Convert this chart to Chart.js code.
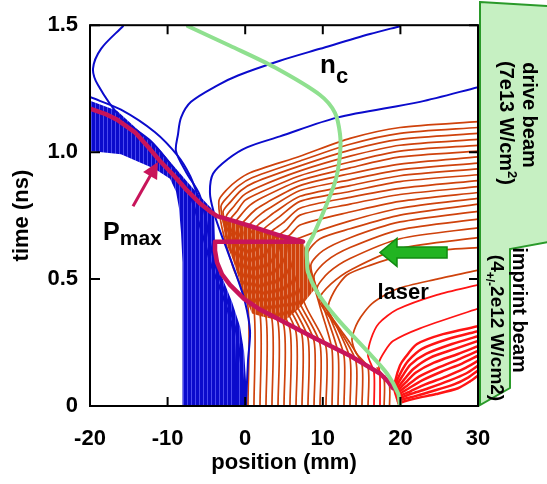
<!DOCTYPE html>
<html>
<head>
<meta charset="utf-8">
<script src="https://cdn.jsdelivr.net/npm/chart.js@4.4.1/dist/chart.umd.min.js"></script>
<style>
  html, body { margin: 0; padding: 0; background: #fff; }
  #wrap { width: 547px; height: 484px; position: relative; }
</style>
</head>
<body>
<div id="wrap"><canvas id="lagrange"></canvas></div>
<script>
// axis ticks
const xTicks = [-20, -10, 0, 10, 20, 30];
const yTicks = [0, 0.5, 1.0, 1.5];
const yTickLabels = ['0', '0.5', '1.0', '1.5'];

// critical density surface n_c  [position mm, time ns]
const ncCurve = [[-7.37,1.496],[-1.96,1.419],[3.84,1.333],[9.64,1.225],[11.57,1.155],[12.22,1.070],[12.22,0.992],[11.7,0.895],[10.54,0.798],[8.74,0.671],[7.96,0.624],[7.96,0.574],[8.09,0.527],[9.25,0.450],[11.83,0.345],[15.7,0.217],[18.27,0.128],[19.69,0.050],[19.95,0]];

// peak pressure front P_max
const pmaxCurve = [[-20,1.171],[-18.07,1.151],[-16.52,1.128],[-14.2,1.078],[-12.27,1.012],[-10.98,0.965],[-9.05,0.903],[-7.5,0.849],[-5.82,0.798],[-4.54,0.767],[-3.63,0.748],[-1.96,0.733],[0.62,0.709],[4.48,0.671],[7.45,0.647],[-3.89,0.647],[-3.89,0.612],[-3.63,0.566],[-2.99,0.519],[-1.96,0.477],[-0.15,0.422],[1.91,0.380],[4.87,0.333],[8.99,0.267],[13.51,0.198],[17.37,0.128],[18.4,0.097],[19.05,0.070]];

// dense blue (foam) trajectories, drawn as one outlined region
const blueBand = [[-20,1.202],[-16.52,1.163],[-10.98,1.008],[-7.5,0.884],[-5.82,0.826],[-4.02,0.767],[-3.89,0.643],[-3.63,0.558],[-2.73,0.488],[-1.7,0.411],[-0.67,0.314],[-0.15,0.217],[0.1,0.101],[0.1,0],[-8.02,0],[-8.02,0.411],[-8.14,0.566],[-8.27,0.682],[-8.53,0.779],[-8.92,0.845],[-9.69,0.895],[-11.62,0.934],[-16.01,0.992],[-20,1.004]];

// single blue trajectories
const bluePaths = [
  [[-1.19,0],[-1.57,0.295],[-2.99,0.442],[-4.41,0.558],[-5.31,0.655],[-5.95,0.721],[-6.73,0.798],[-7.76,0.876],[-9.95,0.965],[-12.14,1.043],[-16.01,1.136],[-18.97,1.264],[-19.61,1.329],[-18.58,1.407],[-15.75,1.496]],
  [[-0.15,0],[-0.28,0.101],[-1.19,0.295],[-2.6,0.442],[-3.89,0.558],[-4.66,0.663],[-5.18,0.752],[-5.95,0.837],[-7.63,0.922],[-8.92,1.004],[-8.66,1.070],[-8.27,1.136],[-6.98,1.198],[-3.51,1.264],[-0.93,1.302],[4.48,1.360],[9.64,1.407],[16.08,1.465],[19.95,1.496]],
  [[0.1,0],[0.36,0.178],[0.62,0.295],[-0.03,0.411],[-1.06,0.508],[-2.22,0.605],[-3.25,0.690],[-4.02,0.760],[-4.54,0.837],[-4.15,0.915],[-2.22,0.973],[0.23,1.019],[4.48,1.062],[11.83,1.136],[22.53,1.198],[30,1.256]],
  [[-20,1.217],[-16.01,1.167],[-11.62,1.078],[-8.66,0.984],[-7.11,0.907],[-6.21,0.837]]
];

// compressed orange (target) region
const orangePack = [[-2.99,0.740],[0.62,0.709],[4.48,0.671],[7.45,0.647],[7.96,0.597],[8.22,0.527],[8.87,0.457],[7.06,0.388],[5.0,0.333],[2.16,0.353],[0.88,0.364],[0.23,0.411],[-0.67,0.488],[-1.57,0.574],[-2.47,0.643]];

// single orange trajectories
const orangePaths = [
  [[0.36,0],[0.36,0.391],[-1.57,0.547],[-2.99,0.702],[-3.38,0.810],[-2.35,0.853],[-1.06,0.888],[0.62,0.919],[7.06,0.984],[13.51,1.054],[19.95,1.097],[30,1.120]],
  [[1.13,0],[1.13,0.380],[-0.93,0.535],[-2.47,0.682],[-3.12,0.787],[-2.09,0.829],[-0.8,0.868],[0.88,0.899],[7.06,0.965],[13.51,1.031],[19.95,1.074],[30,1.097]],
  [[1.91,0],[1.91,0.364],[-0.28,0.519],[-1.96,0.667],[-2.86,0.764],[-1.83,0.806],[-0.54,0.849],[1.13,0.880],[7.06,0.946],[13.51,1.008],[19.95,1.050],[30,1.074]],
  [[2.68,0],[2.68,0.353],[0.36,0.508],[-1.44,0.651],[-2.47,0.744],[-1.44,0.787],[-0.28,0.829],[1.52,0.860],[7.06,0.926],[13.51,0.984],[19.95,1.027],[30,1.050]],
  [[3.45,0],[3.45,0.341],[1.01,0.496],[-0.93,0.636],[-2.09,0.725],[-1.06,0.767],[-0.03,0.810],[1.91,0.841],[7.06,0.907],[13.51,0.961],[19.95,1.004],[30,1.027]],
  [[4.23,0],[4.23,0.329],[1.65,0.484],[-0.28,0.620],[-1.57,0.709],[-0.67,0.748],[0.62,0.791],[2.29,0.822],[7.06,0.888],[13.51,0.938],[19.95,0.981],[30,1.004]],
  [[5.0,0],[5.0,0.314],[2.42,0.473],[0.36,0.605],[-0.93,0.694],[0.1,0.736],[1.39,0.775],[2.81,0.802],[7.06,0.868],[13.51,0.915],[19.95,0.953],[30,0.981]],
  [[5.77,0],[5.77,0.302],[3.2,0.461],[1.13,0.593],[-0.15,0.682],[0.88,0.725],[2.16,0.760],[3.32,0.783],[7.06,0.849],[13.51,0.891],[19.95,0.930],[30,0.957]],
  [[6.55,0],[6.55,0.291],[3.97,0.450],[1.91,0.581],[0.62,0.674],[1.65,0.713],[2.81,0.740],[3.84,0.764],[7.06,0.826],[13.51,0.868],[19.95,0.907],[30,0.934]],
  [[7.32,0],[7.32,0.279],[4.74,0.438],[2.68,0.570],[1.52,0.667],[2.55,0.702],[4.36,0.744],[7.06,0.806],[13.51,0.845],[19.95,0.884],[30,0.911]],
  [[8.09,0],[8.09,0.267],[5.52,0.426],[3.58,0.558],[2.42,0.659],[3.45,0.690],[4.87,0.721],[7.06,0.779],[13.51,0.822],[19.95,0.857],[30,0.888]],
  [[8.87,0],[8.87,0.256],[6.29,0.415],[4.48,0.547],[3.32,0.651],[4.36,0.674],[5.39,0.698],[7.06,0.752],[13.51,0.795],[19.95,0.833],[30,0.864]],
  [[9.64,0],[9.64,0.244],[7.06,0.403],[5.39,0.535],[4.36,0.643],[5.77,0.674],[7.06,0.713],[13.51,0.764],[19.95,0.806],[30,0.841]],
  [[10.41,0],[10.41,0.233],[7.84,0.391],[6.29,0.519],[5.52,0.636],[7.06,0.663],[13.51,0.729],[19.95,0.779],[30,0.818]],
  [[11.19,0],[11.19,0.221],[9.64,0.391],[8.48,0.519],[8.09,0.605],[9.64,0.659],[13.51,0.698],[19.95,0.752],[30,0.795]],
  [[11.96,0],[11.96,0.209],[10.28,0.372],[8.99,0.481],[8.48,0.558],[10.03,0.612],[13.51,0.663],[19.95,0.725],[30,0.767]],
  [[12.73,0],[12.73,0.198],[10.93,0.349],[9.51,0.442],[8.87,0.512],[10.41,0.570],[13.51,0.624],[19.95,0.694],[30,0.736]],
  [[13.51,0],[13.51,0.186],[11.57,0.326],[10.03,0.403],[9.25,0.465],[10.8,0.527],[13.51,0.581],[19.95,0.659],[30,0.702]],
  [[14.28,0],[14.28,0.174],[12.22,0.295],[10.54,0.364],[9.51,0.419],[11.06,0.481],[13.76,0.539],[19.95,0.620],[30,0.663]],
  [[15.05,0],[15.05,0.163],[13.51,0.248],[11.96,0.314],[10.67,0.380],[11.44,0.450],[13.12,0.516],[16.08,0.554],[20.34,0.593],[26.01,0.616],[30,0.624]],
  [[15.83,0],[15.83,0.151],[14.28,0.209],[13.76,0.264],[14.54,0.333],[16.34,0.403],[19.56,0.461],[24.72,0.500],[30,0.535]],
  [[17.9,0],[17.9,0.105],[17.0,0.150]],
  [[18.6,0],[18.6,0.080],[18.0,0.118]]
];

// red (imprint-ablated) trajectories
const redPaths = [
  [[16.6,0],[16.6,0.132],[15.83,0.198],[16.21,0.264],[17.24,0.326],[19.56,0.380],[24.72,0.438],[30,0.477]],
  [[17.37,0],[17.37,0.116],[17.24,0.171],[18.01,0.217],[19.05,0.256],[22.53,0.306],[30,0.384]],
  [[19.25,0.06],[19.35,0.100],[19.95,0.160],[20.59,0.190],[22.14,0.244],[25.49,0.283],[30,0.314]],
  [[19.3,0.055],[19.45,0.090],[20.2,0.140],[21.0,0.178],[22.78,0.225],[26.13,0.264],[30,0.295]],
  [[19.35,0.05],[19.55,0.080],[20.3,0.120],[21.3,0.163],[23.3,0.205],[26.65,0.244],[30,0.275]],
  [[19.4,0.045],[19.65,0.070],[20.5,0.105],[21.7,0.147],[23.81,0.190],[27.04,0.225],[30,0.256]],
  [[19.45,0.04],[19.75,0.062],[20.7,0.093],[22.0,0.132],[24.33,0.171],[27.42,0.205],[30,0.236]],
  [[19.5,0.035],[19.85,0.055],[20.9,0.081],[22.4,0.116],[24.85,0.151],[27.68,0.186],[30,0.217]],
  [[19.55,0.03],[19.95,0.048],[21.1,0.070],[22.8,0.101],[25.36,0.136],[27.94,0.167],[30,0.198]],
  [[19.6,0.025],[20.05,0.040],[21.3,0.058],[23.2,0.085],[25.88,0.116],[28.2,0.147],[30,0.178]],
  [[19.65,0.02],[20.15,0.033],[21.6,0.050],[23.6,0.070],[26.39,0.101],[28.45,0.128],[30,0.159]],
  [[19.7,0.015],[20.3,0.026],[21.9,0.039],[24.07,0.058],[26.91,0.085],[28.71,0.112],[30,0.140]],
  [[19.75,0.01],[20.45,0.018],[22.14,0.031],[24.59,0.047],[27.42,0.070],[28.97,0.097],[30,0.120]]
];

const FONT = '"Liberation Sans", Arial, Helvetica, sans-serif';
const BLUE = '#0b0bcc';
const ORANGE = '#cf420c';
const RED = '#ff1414';
const MAGENTA = '#c8145a';
const GREEN = '#8fe08f';

function stripes(base, light, period) {
  const c = document.createElement('canvas');
  c.width = period; c.height = 1;
  const g = c.getContext('2d');
  g.fillStyle = base; g.fillRect(0, 0, period, 1);
  g.fillStyle = light; g.fillRect(period - 1, 0, 1, 1);
  return g.createPattern(c, 'repeat');
}

function path(pts, color, width, order, tension) {
  return {
    data: pts.map(([x, y]) => ({ x, y })),
    showLine: true, fill: false, pointRadius: 0,
    borderColor: color, borderWidth: width,
    borderJoinStyle: 'round', borderCapStyle: 'round',
    tension: tension, order: order
  };
}

function region(pts, pattern, order) {
  return {
    data: pts.map(([x, y]) => ({ x, y })),
    showLine: true, fill: 'shape', pointRadius: 0,
    backgroundColor: pattern, borderWidth: 0, borderColor: 'rgba(0,0,0,0)',
    tension: 0, order: order
  };
}

const datasets = [];
datasets.push(path(ncCurve, GREEN, 4, 1, 0.3));
datasets.push(path(pmaxCurve, MAGENTA, 4.5, 2, 0));
bluePaths.forEach(p => datasets.push(path(p, BLUE, 2, 4, 0.3)));
redPaths.forEach((p, i) => datasets.push(path(p, RED, i < 2 ? 1.8 : 2.5, 5, 0.25)));
orangePaths.forEach(p => datasets.push(path(p, ORANGE, 1.7, 6, 0.25)));
datasets.push(region(blueBand, stripes(BLUE, '#4a4aee', 4), 10));
datasets.push(region(orangePack, stripes(ORANGE, '#e2845c', 4), 10));

// annotation helpers
function drawRuns(ctx, x, y, runs, align) {
  let total = 0;
  runs.forEach(r => { ctx.font = r.font; r.w = ctx.measureText(r.text).width; total += r.w; });
  let cx = align === 'center' ? x - total / 2 : x;
  ctx.textAlign = 'left';
  ctx.textBaseline = 'alphabetic';
  runs.forEach(r => { ctx.font = r.font; ctx.fillText(r.text, cx, y + (r.dy || 0)); cx += r.w; });
}

function arrow(ctx, x0, y0, x1, y1, headLen, headHalf, shaftHalf) {
  const ang = Math.atan2(y1 - y0, x1 - x0);
  const len = Math.hypot(x1 - x0, y1 - y0);
  ctx.save();
  ctx.translate(x0, y0);
  ctx.rotate(ang);
  ctx.beginPath();
  ctx.moveTo(0, -shaftHalf);
  ctx.lineTo(len - headLen, -shaftHalf);
  ctx.lineTo(len - headLen, -headHalf);
  ctx.lineTo(len, 0);
  ctx.lineTo(len - headLen, headHalf);
  ctx.lineTo(len - headLen, shaftHalf);
  ctx.lineTo(0, shaftHalf);
  ctx.closePath();
  ctx.restore();
}

const decor = {
  id: 'decor',
  afterDatasetsDraw(chart) {
    const ctx = chart.ctx;
    const a = chart.chartArea;
    const sx = chart.scales.x, sy = chart.scales.y;
    const P = (x, y) => [sx.getPixelForValue(x), sy.getPixelForValue(y)];
    ctx.save();

    // frame and inward ticks
    ctx.strokeStyle = '#000';
    ctx.lineWidth = 2;
    ctx.strokeRect(a.left, a.top, a.right - a.left, a.bottom - a.top);
    ctx.beginPath();
    xTicks.forEach(v => {
      const X = sx.getPixelForValue(v);
      ctx.moveTo(X, a.bottom); ctx.lineTo(X, a.bottom - 9);
      ctx.moveTo(X, a.top); ctx.lineTo(X, a.top + 9);
    });
    yTicks.forEach(v => {
      const Y = sy.getPixelForValue(v);
      ctx.moveTo(a.left, Y); ctx.lineTo(a.left + 10, Y);
      ctx.moveTo(a.right, Y); ctx.lineTo(a.right - 9, Y);
    });
    ctx.stroke();

    // P_max pointer
    const [mx0, my0] = P(-14.46, 0.787);
    const [mx1, my1] = P(-11.24, 0.961);
    ctx.strokeStyle = MAGENTA;
    ctx.lineWidth = 3;
    ctx.beginPath(); ctx.moveTo(mx0, my0);
    const ang = Math.atan2(my1 - my0, mx1 - mx0);
    ctx.lineTo(mx1 - 14 * Math.cos(ang), my1 - 14 * Math.sin(ang));
    ctx.stroke();
    ctx.fillStyle = MAGENTA;
    arrow(ctx, mx1 - 16 * Math.cos(ang), my1 - 16 * Math.sin(ang), mx1, my1, 16, 8, 0);
    ctx.fill();

    // laser direction arrow
    const [gx0, gy0] = P(26.01, 0.605);
    const [gx1, gy1] = P(17.37, 0.605);
    arrow(ctx, gx0, gy0, gx1, gy1, 17, 14, 5.5);
    ctx.fillStyle = '#22b422';
    ctx.fill();
    ctx.strokeStyle = '#128a12';
    ctx.lineWidth = 1.5;
    ctx.stroke();

    // labels
    ctx.fillStyle = '#000';
    const bold = s => 'bold ' + s + 'px ' + FONT;
    let [tx, ty] = P(9.64, 1.310);
    drawRuns(ctx, tx, ty, [{ text: 'n', font: bold(26) }, { text: 'c', font: bold(22), dy: 10 }], 'left');
    [tx, ty] = P(-18.32, 0.655);
    drawRuns(ctx, tx, ty, [{ text: 'P', font: bold(25) }, { text: 'max', font: bold(21), dy: 5 }], 'left');
    [tx, ty] = P(20.36, 0.422);
    drawRuns(ctx, tx, ty, [{ text: 'laser', font: bold(22) }], 'center');

    // beam boxes on the right
    const L = a.right + 2, W = chart.width;
    ctx.beginPath();
    ctx.moveTo(L, 2);
    ctx.lineTo(W + 2, 6);
    ctx.lineTo(W + 2, 242);
    ctx.lineTo(L + 30, 249);
    ctx.lineTo(L + 30, 388);
    ctx.lineTo(L, 405);
    ctx.closePath();
    ctx.fillStyle = '#c6f0c2';
    ctx.fill();
    ctx.strokeStyle = '#2a9a2a';
    ctx.lineWidth = 2;
    ctx.stroke();

    ctx.fillStyle = '#000';
    const vtext = (cx, cy, runs) => {
      ctx.save(); ctx.translate(cx, cy); ctx.rotate(Math.PI / 2);
      drawRuns(ctx, 0, 7, runs, 'center');
      ctx.restore();
    };
    vtext(530, 115, [{ text: 'drive beam', font: bold(20) }]);
    vtext(507, 123, [{ text: '(7e13 W/cm', font: bold(20) }, { text: '2', font: bold(13), dy: -8 }, { text: ')', font: bold(20) }]);
    vtext(520, 310, [{ text: 'imprint beam', font: bold(20) }]);
    vtext(498, 328, [{ text: '(4', font: bold(19) }, { text: '+/-', font: bold(12), dy: 5 }, { text: '2e12 W/cm2)', font: bold(19) }]);

    ctx.restore();
  }
};

new Chart(document.getElementById('lagrange'), {
  type: 'scatter',
  data: { datasets },
  options: {
    responsive: true,
    maintainAspectRatio: false,
    animation: false,
    events: [],
    layout: { padding: { left: 0, right: 69, top: 19, bottom: 0 } },
    plugins: { legend: { display: false }, tooltip: { enabled: false } },
    scales: {
      x: {
        type: 'linear', min: -20, max: 30,
        afterBuildTicks: s => { s.ticks = xTicks.map(v => ({ value: v })); },
        afterFit: s => { s.height = 78; },
        grid: { display: false, drawTicks: false },
        border: { display: false },
        ticks: { color: '#000', font: { family: FONT, size: 22, weight: 'bold' }, padding: 20, maxRotation: 0, autoSkip: false },
        title: { display: true, text: 'position (mm)', color: '#000', font: { family: FONT, size: 22, weight: 'bold' }, padding: { top: 0, bottom: 8 } }
      },
      y: {
        type: 'linear', min: 0, max: 1.5,
        afterBuildTicks: s => { s.ticks = yTicks.map(v => ({ value: v })); },
        afterFit: s => { s.width = 90; },
        grid: { display: false, drawTicks: false },
        border: { display: false },
        ticks: { color: '#000', font: { family: FONT, size: 22, weight: 'bold' }, padding: 12, callback: (v, i) => yTickLabels[i] },
        title: { display: true, text: 'time (ns)', color: '#000', font: { family: FONT, size: 22, weight: 'bold' }, padding: { top: 9, bottom: 0 } }
      }
    }
  },
  plugins: [decor]
});
</script>
</body>
</html>
